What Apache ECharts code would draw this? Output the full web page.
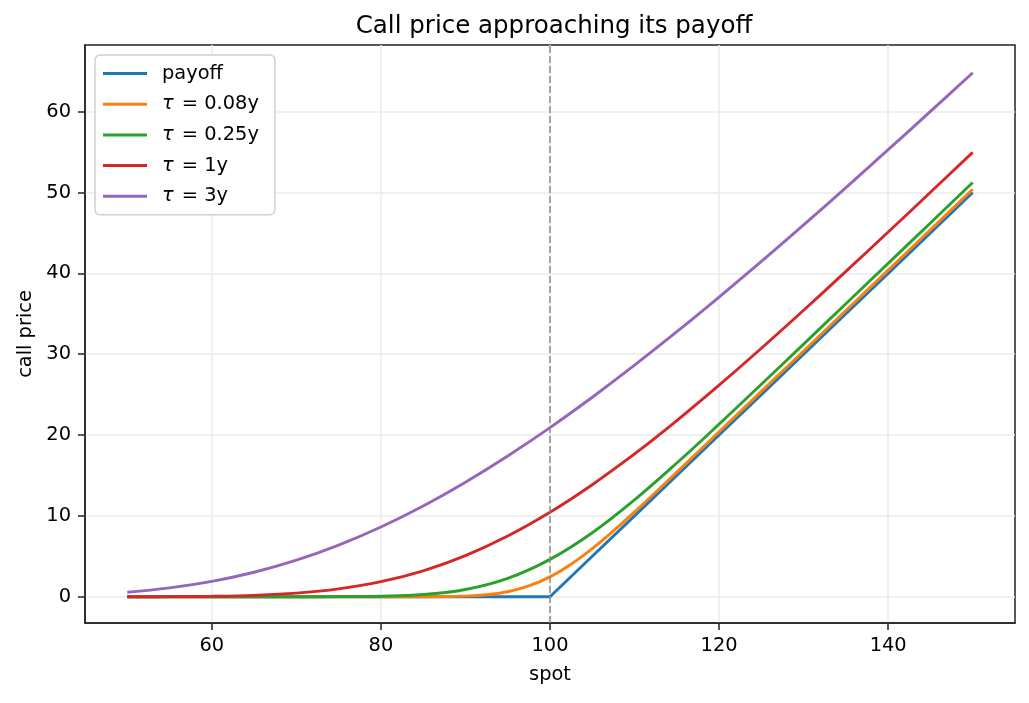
<!DOCTYPE html>
<html>
<head>
<meta charset="utf-8">
<script src="https://cdn.jsdelivr.net/npm/echarts@6/dist/echarts.min.js"></script>
<style>
  html, body { margin: 0; padding: 0; background: #fff; }
  #chart { width: 1029px; height: 703px; }
</style>
</head>
<body>
<div id="chart"></div>
<script>
// spot grid
var spot = [50, 55, 60, 65, 70, 75, 80, 85, 90, 95, 100, 105, 110, 115, 120, 125, 130, 135, 140, 145, 150];
var payoff = [0, 0, 0, 0, 0, 0, 0, 0, 0, 0, 0, 5, 10, 15, 20, 25, 30, 35, 40, 45, 50];
var tau025 = [0, 0, 0, 0, 0, 0.01, 0.06, 0.27, 0.90, 2.27, 4.62, 7.92, 11.99, 16.54, 21.35, 26.28, 31.25, 36.25, 41.24, 46.24, 51.24];
var tau1 = [0.00, 0.01, 0.05, 0.17, 0.44, 0.97, 1.86, 3.21, 5.09, 7.51, 10.45, 13.86, 17.66, 21.79, 26.17, 30.74, 35.44, 40.24, 45.11, 50.03, 54.97];
var tau3 = [0.56, 1.09, 1.90, 3.03, 4.52, 6.39, 8.63, 11.23, 14.17, 17.41, 20.92, 24.68, 28.64, 32.78, 37.07, 41.48, 46.00, 50.61, 55.30, 60.04, 64.82];
// short maturity curve bends sharply near the strike, so read it more densely there
var spotShort = [50, 55, 60, 65, 70, 75, 80, 85, 90, 92.5, 95, 97.5, 100, 102.5, 105, 107.5, 110, 112.5, 115, 120, 125, 130, 135, 140, 145, 150];
var tau008 = [0, 0, 0, 0, 0, 0, 0, 0, 0.08, 0.24, 0.62, 1.33, 2.46, 4.02, 5.94, 8.14, 10.49, 12.93, 15.41, 20.40, 25.40, 30.40, 35.40, 40.40, 45.40, 50.40];

var xTicks = [60, 80, 100, 120, 140];
var yTicks = [0, 10, 20, 30, 40, 50, 60];
var strike = 100;

function pairs(xs, ys) {
	return xs.map(function(x, i){ return [x, ys[i]]; });
}

var font = 'DejaVu Sans';
var fs = 19.4;
var myChart = echarts.init(document.getElementById('chart'));

function line(name, xs, ys, color, smooth) {
	return {
		name: name,
		type: 'line',
		data: pairs(xs, ys),
		symbol: 'none',
		smooth: smooth ? 0.4 : false,
		lineStyle: { color: color, width: 2.9 },
		itemStyle: { color: color },
		z: 3
	};
}

var series = [
	line('payoff', spot, payoff, '#1f77b4', false),
	line('τ = 0.08y', spotShort, tau008, '#ff7f0e', true),
	line('τ = 0.25y', spot, tau025, '#2ca02c', true),
	line('τ = 1y', spot, tau1, '#d62728', true),
	line('τ = 3y', spot, tau3, '#9467bd', true)
];
series[0].markLine = {
	silent: true,
	symbol: ['none', 'none'],
	label: { show: false },
	lineStyle: { color: '#8c8c8c', type: [7, 3], width: 1.5 },
	data: [{ xAxis: strike }]
};

option = {
	animation: false,
	backgroundColor: '#fff',
	textStyle: { fontFamily: font },
	title: {
		text: 'Call price approaching its payoff',
		left: 549,
		textAlign: 'center',
		top: 9,
		textStyle: { fontFamily: font, fontSize: 24.5, fontWeight: 'normal', color: '#000' }
	},
	legend: {
		orient: 'vertical',
		left: 95,
		top: 55,
		width: 177,
		padding: [9, 16, 9, 8],
		backgroundColor: '#fff',
		borderColor: '#d0d0d0',
		borderWidth: 1.5,
		borderRadius: 5,
		itemWidth: 44,
		itemHeight: 20,
		itemGap: 11.7,
		icon: 'path://M0,8.5 L44,8.5 L44,11.5 L0,11.5 Z',
		data: series.map(function(s){ return s.name; }),
		formatter: function(name){
			return name.indexOf('τ') === 0 ? '{i|τ}' + name.slice(1) : name;
		},
		textStyle: {
			fontFamily: font, fontSize: fs, color: '#000', padding: [0, 0, 0, 10],
			rich: { i: { fontFamily: font, fontSize: fs, fontStyle: 'italic', color: '#000', padding: [0, 2, 0, 0] } }
		}
	},
	grid: {
		left: 85, right: 14, top: 45, bottom: 80,
		show: true, borderColor: '#222', borderWidth: 1.5, backgroundColor: 'transparent'
	},
	xAxis: {
		type: 'value',
		min: 45, max: 155,
		name: 'spot',
		nameLocation: 'middle',
		nameGap: 42,
		nameTextStyle: { fontFamily: font, fontSize: fs, color: '#000' },
		axisLine: { show: true, onZero: false, lineStyle: { color: '#222', width: 1.5 } },
		axisTick: { show: true, length: 7, customValues: xTicks, lineStyle: { color: '#222', width: 1.5 } },
		axisLabel: { customValues: xTicks, fontFamily: font, fontSize: fs, color: '#000', margin: 13 },
		splitLine: { show: true, lineStyle: { color: '#ebebeb', width: 1.5 } }
	},
	yAxis: {
		type: 'value',
		min: -3.25, max: 68.25,
		name: 'call price',
		nameLocation: 'middle',
		nameGap: 50,
		nameRotate: 90,
		nameTextStyle: { fontFamily: font, fontSize: fs, color: '#000' },
		axisLine: { show: true, onZero: false, lineStyle: { color: '#222', width: 1.5 } },
		axisTick: { show: true, length: 7, customValues: yTicks, lineStyle: { color: '#222', width: 1.5 } },
		axisLabel: { customValues: yTicks, fontFamily: font, fontSize: fs, color: '#000', margin: 14 },
		splitLine: { show: true, lineStyle: { color: '#ebebeb', width: 1.5 } }
	},
	series: series
};
myChart.setOption(option);
</script>
</body>
</html>
